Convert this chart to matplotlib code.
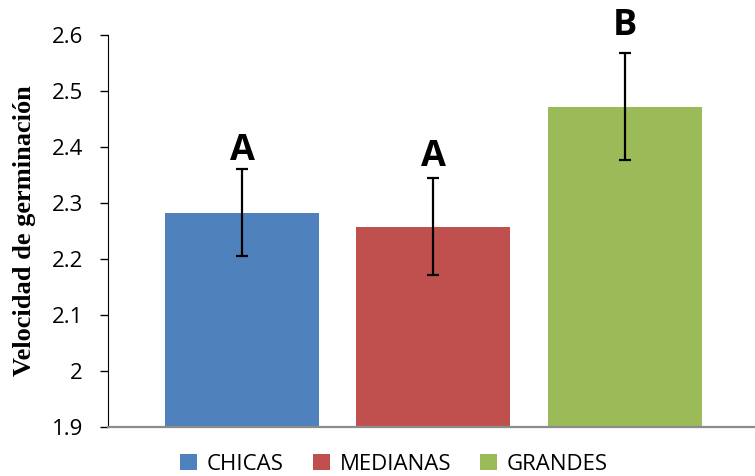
import matplotlib
matplotlib.use("Agg")
import matplotlib.pyplot as plt
from matplotlib.patches import Patch

categories = ["CHICAS", "MEDIANAS", "GRANDES"]
values = [2.283, 2.258, 2.472]
errors = [0.077, 0.086, 0.096]
letters = ["A", "A", "B"]
letter_y = [2.377, 2.366, 2.600]
colors = ["#4F81BD", "#C0504D", "#9BBB59"]
yticks = [1.9, 2.0, 2.1, 2.2, 2.3, 2.4, 2.5, 2.6]
ytick_labels = ["1.9", "2", "2.1", "2.2", "2.3", "2.4", "2.5", "2.6"]

fig = plt.figure(figsize=(7.55, 4.76), dpi=100)
ax = fig.add_axes([108/755, 49/476, (755-108)/755, (427-35)/476])

x = list(range(len(categories)))
ax.bar(x, values, width=0.804, color=colors, zorder=2)
ax.errorbar(x, values, yerr=errors, fmt="none", ecolor="black",
            elinewidth=1.6, capsize=4.3, capthick=1.6, zorder=3)
for xi, lt, ly in zip(x, letters, letter_y):
    ax.text(xi, ly, lt, ha="center", va="baseline", fontsize=26,
            fontweight="bold", family="Open Sans", clip_on=False)

ax.set_ylim(1.9, 2.6)
ax.set_xlim(-0.70, 2.68)
ax.set_yticks(yticks)
ax.set_yticklabels(ytick_labels, family="Open Sans", fontsize=16)
ax.set_xticks([])
ax.tick_params(axis="y", direction="out", length=6, width=1, pad=12)
for s in ["top", "right"]:
    ax.spines[s].set_visible(False)
ax.spines["left"].set_color("black")
ax.spines["bottom"].set_color("#8C8C8C")
ax.spines["bottom"].set_linewidth(1.6)
ax.set_ylabel("Velocidad de germinación", family="Liberation Serif",
              fontweight="bold", fontsize=19, labelpad=11)

handles = [Patch(facecolor=c, edgecolor="none") for c in colors]
fig.legend(handles, categories, loc="lower center", ncol=3,
           bbox_to_anchor=(0.522, -0.04), frameon=False,
           prop={"family": "Open Sans", "size": 16},
           handlelength=0.75, handleheight=0.75, handletextpad=0.45,
           columnspacing=1.3)

fig.savefig("out.png", dpi=100)
